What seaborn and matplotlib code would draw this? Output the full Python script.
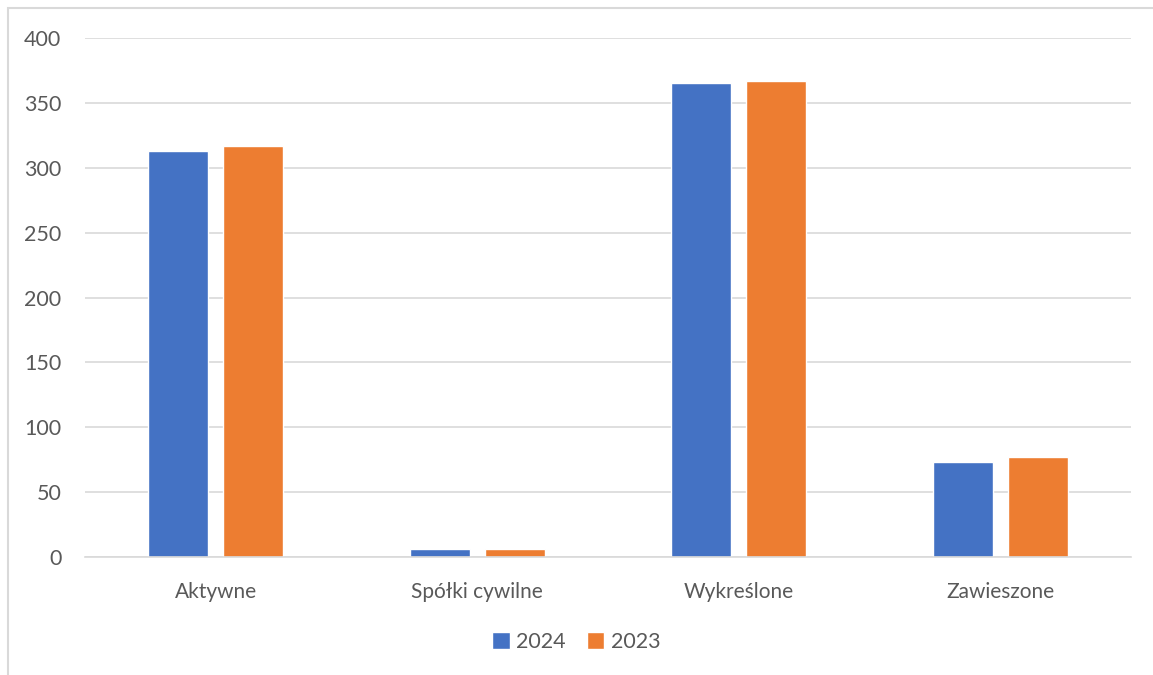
import pandas as pd
import matplotlib.pyplot as plt
import seaborn as sns
from matplotlib.patches import Rectangle

# Data
categories = ['Aktywne', 'Spółki cywilne', 'Wykreślone', 'Zawieszone']
values_2024 = [313, 6, 365, 73]
values_2023 = [317, 6, 367, 77]
years = ['2024', '2023']
colors = ['#4472C4', '#ED7D31']

df = pd.DataFrame({
    'kategoria': categories * 2,
    'rok': [years[0]] * len(categories) + [years[1]] * len(categories),
    'liczba': values_2024 + values_2023,
})

sns.set_style('white')
plt.rcParams['font.family'] = ['Lato', 'DejaVu Sans']
text_color = '#595959'
grid_color = '#D9D9D9'

fig = plt.figure(figsize=(11.53, 6.75), dpi=100)
ax = fig.add_axes([85 / 1153, 1 - 557 / 675, (1131 - 85) / 1153, (557 - 38) / 675])

sns.barplot(data=df, x='kategoria', y='liczba', hue='rok', palette=colors,
            width=0.575, gap=0.2, saturation=1, ax=ax, legend=True)

ax.set_ylim(0, 400)
ax.set_yticks(range(0, 401, 50))
ax.set_xlim(-0.5, 3.5)
ax.set_xlabel('')
ax.set_ylabel('')
ax.yaxis.grid(True, color=grid_color, linewidth=1.2)
ax.set_axisbelow(True)
for side in ['top', 'right', 'left']:
    ax.spines[side].set_visible(False)
ax.spines['bottom'].set_color(grid_color)
ax.spines['bottom'].set_linewidth(1.2)
ax.tick_params(axis='y', length=0, pad=17, labelsize=15.5, labelcolor=text_color)
ax.tick_params(axis='x', length=0, pad=18, labelsize=15, labelcolor=text_color)

handles, labels = ax.get_legend_handles_labels()
ax.legend(handles, labels, loc='center', bbox_to_anchor=(0.5, 1 - 642 / 675),
          bbox_transform=fig.transFigure, ncol=2, frameon=False, fontsize=15.5,
          labelcolor=text_color, handlelength=0.8, handleheight=0.8,
          handletextpad=0.3, columnspacing=1.0)

# light frame around the chart area (cropped at right/bottom)
fig.patches.append(Rectangle((8 / 1153, -0.1), 1.2, 1 - 8 / 675 + 0.1,
                             transform=fig.transFigure, fill=False,
                             edgecolor=grid_color, linewidth=1.5))

fig.savefig('out.png', dpi=100)
